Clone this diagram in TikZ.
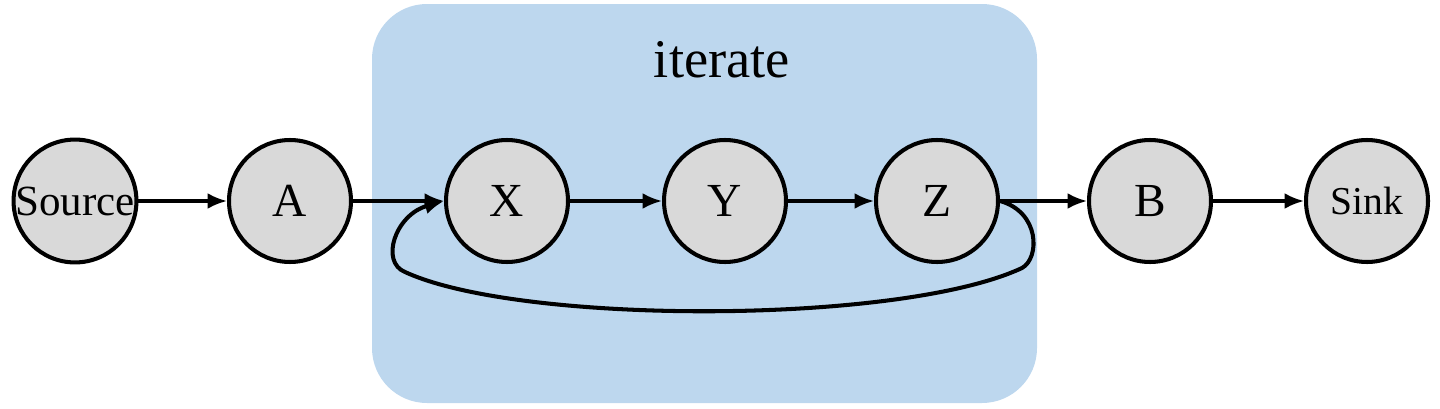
\documentclass[tikz,border=0pt]{standalone}
\usepackage{fontspec}
\setmainfont{Liberation Serif}
\newfontfamily\diagfont{Liberation Serif}
\usepackage{xcolor}
\usetikzlibrary{positioning,arrows.meta}
\definecolor{loopblue}{HTML}{BDD7EE}
\definecolor{nodegray}{HTML}{D9D9D9}
\tikzset{
	stage/.style={circle, draw=black, line width=2.3pt, fill=nodegray, minimum size=2.44cm, inner sep=0pt, font=\diagfont\fontsize{27}{30}\selectfont},
	flow/.style={line width=1.8pt, -{Latex[length=11pt,width=9pt]}}
}

\begin{document}
\begin{tikzpicture}[x=0.02cm, y=-0.02cm]
				\useasboundingbox (0, 0) rectangle (1440, 409);
				\fill[loopblue, rounded corners=1.1cm] (372, 4) rectangle (1037, 403);
				\node[font=\diagfont\fontsize{31}{36}\selectfont] (label) at (722, 60) {iterate};
				\node[stage, font=\diagfont\fontsize{24.5}{30}\selectfont] (source) at (75, 201) {Source};
				\node[stage] (a) at (290, 201) {A};
				\node[stage] (x) at (507, 201) {X};
				\node[stage] (y) at (725, 201) {Y};
				\node[stage] (z) at (937, 201) {Z};
				\node[stage] (b) at (1150, 201) {B};
				\node[stage, font=\diagfont\fontsize{22.5}{30}\selectfont] (sink) at (1367, 201) {Sink};
				\draw[flow] (source) -- (a);
				\draw[flow] (a) -- (x);
				\draw[flow] (x) -- (y);
				\draw[flow] (y) -- (z);
				\draw[flow] (z) -- (b);
				\draw[flow] (b) -- (sink);
				\draw[flow, line width=2.3pt] (z.east) .. controls (1040, 212) and (1040, 258) .. (1022, 268) .. controls (900, 325) and (520, 325) .. (405, 272) .. controls (380, 262) and (395, 215) .. (x.west);
			\end{tikzpicture}
\end{document}
